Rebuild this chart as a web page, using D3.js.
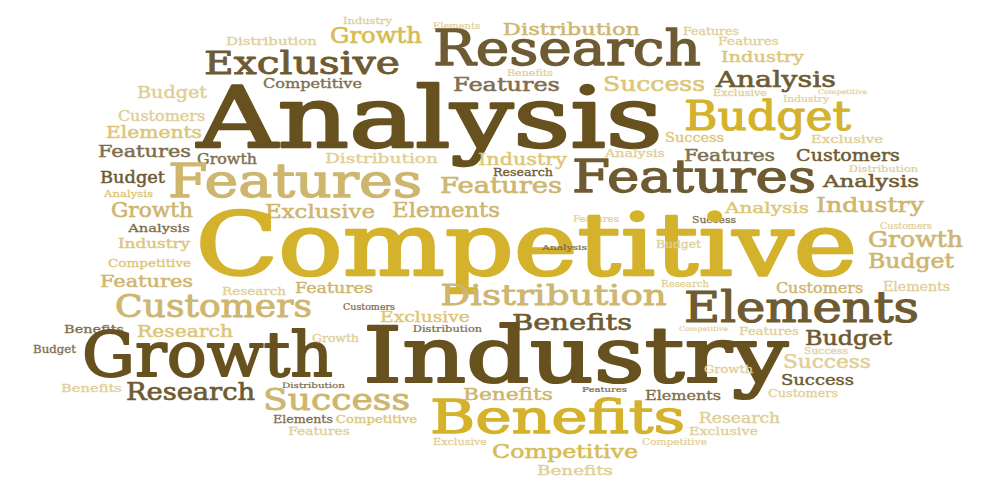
<!DOCTYPE html>
<html>
<head>
<meta charset="utf-8">
<script src="https://cdn.jsdelivr.net/npm/d3@7"></script>
<style>
  html, body { margin: 0; padding: 0; background: #fff; }
  svg { display: block; }
</style>
</head>
<body>
<svg id="cloud"></svg>
<script>
// words of the cloud, with their weight (font size), layout spot and tone
const words = [
  "Industry", "Elements", "Distribution", "Growth", "Distribution", "Features", "Features", "Industry",
  "Research", "Exclusive", "Benefits", "Features", "Success", "Analysis", "Competitive", "Exclusive",
  "Competitive", "Industry", "Budget", "Customers", "Budget", "Elements", "Success", "Exclusive",
  "Analysis", "Features", "Growth", "Distribution", "Industry", "Analysis", "Features", "Customers",
  "Distribution", "Budget", "Research", "Analysis", "Features", "Features", "Features", "Analysis",
  "Growth", "Exclusive", "Elements", "Features", "Analysis", "Industry", "Success", "Customers",
  "Analysis", "Competitive", "Industry", "Analysis", "Budget", "Growth", "Budget", "Competitive",
  "Features", "Research", "Features", "Research", "Customers", "Elements", "Customers", "Distribution",
  "Customers", "Exclusive", "Elements", "Benefits", "Research", "Growth", "Distribution", "Benefits",
  "Competitive", "Features", "Budget", "Budget", "Growth", "Industry", "Success", "Success",
  "Growth", "Distribution", "Success", "Benefits", "Features", "Customers", "Research", "Success",
  "Benefits", "Elements", "Benefits", "Research", "Elements", "Competitive", "Features", "Exclusive",
  "Competitive", "Exclusive", "Competitive", "Benefits"
];

const weights = [
  10.3, 9.9, 19.2, 25.9, 12.7, 11.8, 12.8, 17.5,
  56.4, 36.6, 9.7, 22.5, 24.6, 25.3, 15.1, 10.1,
  7.5, 9.7, 19.7, 16.3, 47, 20.2, 14.2, 13.5,
  98, 19.6, 16.9, 15.8, 18.7, 12.6, 19.2, 19.4,
  9.7, 18.3, 12.6, 20.2, 53.5, 25.7, 51.4, 10.3,
  23.1, 20.6, 22.7, 9.7, 17.7, 22.7, 10.6, 9.7,
  13, 101, 15.2, 9.5, 12.7, 26.8, 24.2, 12.7,
  19.6, 13.5, 16.4, 10.1, 16.3, 14.1, 36.8, 31.7,
  9.7, 16.8, 49.5, 12.6, 20.2, 13.2, 9.7, 25.3,
  7.5, 12.6, 24.5, 12.1, 70.7, 89.5, 10.6, 21.2,
  13.8, 8.8, 17.6, 12.8, 9.5, 13.1, 27.2, 35.4,
  18.9, 16, 53.7, 17.1, 12.6, 12.4, 13, 10.1,
  9.9, 12.9, 22.3, 16
];

// layout spot of each word: centre x and baseline y in the cloud's 996x501 frame
const spotX = [
  367.5, 456.5, 571.5, 376, 271.5, 711, 748.5, 762.5,
  567, 302, 530, 506.5, 654, 776, 312.5, 740,
  842.5, 806, 172, 161.5, 767.5, 154, 694.5, 847,
  430, 144.5, 227, 381.5, 522.5, 635, 729.5, 848,
  883.5, 132.5, 523, 871, 295, 501, 694, 128.5,
  152, 320, 446, 596, 767, 870, 714, 906,
  159, 526.5, 154, 564.5, 678.5, 915.5, 911, 149.5,
  146.5, 254, 334, 685, 819.5, 916.5, 213.5, 553.5,
  369, 425, 801.5, 94, 185, 335.5, 447.5, 572,
  703.5, 769, 848.5, 54.5, 207.5, 575.5, 826, 827,
  728.5, 313.5, 817.5, 91.5, 604.5, 803, 190.5, 336.5,
  508, 683, 557.5, 739.5, 303, 376.5, 319, 460,
  674.5, 723.5, 565, 575
];

const spotY = [
  24, 29, 35, 43, 45, 35, 45, 62,
  65, 74, 76, 91, 91, 87, 88, 96,
  94, 102, 98, 121, 130, 138, 142, 143,
  147, 157, 164, 163, 165, 157, 161, 161,
  172, 183, 176, 187, 197, 193, 192, 197,
  217, 218, 217, 222, 213, 212, 223, 229,
  232, 275, 248, 250, 248, 247, 268, 267,
  287, 295, 293, 287, 293, 291, 317, 305,
  310, 322, 322, 333, 337, 342, 332, 330,
  331, 335, 345, 353, 376, 382, 354, 368,
  373, 388, 385, 392, 392, 397, 400, 410,
  400, 400, 433, 423, 423, 423, 435, 445,
  445, 435, 458, 475
];

// tone group of each word (index into the palette)
const tones = [
  6, 6, 5, 4, 6, 6, 6, 7,
  1, 1, 6, 2, 7, 1, 2, 6,
  6, 6, 6, 6, 3, 7, 7, 6,
  0, 2, 2, 6, 7, 6, 2, 1,
  6, 1, 1, 1, 5, 5, 1, 7,
  5, 5, 5, 6, 7, 5, 2, 6,
  2, 3, 7, 2, 6, 5, 5, 7,
  5, 6, 5, 6, 5, 6, 5, 5,
  2, 7, 1, 2, 7, 6, 2, 1,
  6, 6, 1, 2, 0, 0, 6, 6,
  6, 2, 1, 6, 2, 6, 1, 5,
  5, 2, 3, 6, 2, 7, 6, 6,
  6, 6, 4, 6
];

const palette = ["#67511f", "#6e5b32", "#7f6f4f", "#d4b22c", "#d6bc52", "#ceb66f", "#e1cf97", "#ddc677"];

const width = 996, height = 501;

const data = words.map((w, i) => ({ text: w, size: weights[i], x: spotX[i], y: spotY[i], tone: tones[i] }));

const x = d3.scaleLinear().domain([0, 996]).range([0, width]);
const y = d3.scaleLinear().domain([0, 501]).range([0, height]);
const fontSize = d3.scaleLinear().domain([0, 100]).range([0, 100]);
const color = d3.scaleOrdinal().domain(d3.range(palette.length)).range(palette);

const svg = d3.select("#cloud")
  .attr("width", width)
  .attr("height", height)
  .attr("viewBox", [0, 0, width, height]);

// slab serif squeezed to typewriter widths (0.6em per letter), inked a bit heavier
const glyph = 0.86;

svg.append("g")
  .attr("font-family", "'DejaVu Serif', serif")
  .attr("text-anchor", "middle")
  .attr("stroke-linejoin", "round")
  .selectAll("text")
  .data(data)
  .join("text")
  .attr("x", d => x(d.x))
  .attr("y", d => y(d.y))
  .attr("font-size", d => fontSize(d.size) * glyph)
  .attr("textLength", d => fontSize(d.size) * (0.6 * d.text.length - 0.05))
  .attr("lengthAdjust", "spacingAndGlyphs")
  .attr("fill", d => color(d.tone))
  .attr("stroke", d => color(d.tone))
  .attr("stroke-width", d => fontSize(d.size) * 0.025)
  .text(d => d.text);
</script>
</body>
</html>
